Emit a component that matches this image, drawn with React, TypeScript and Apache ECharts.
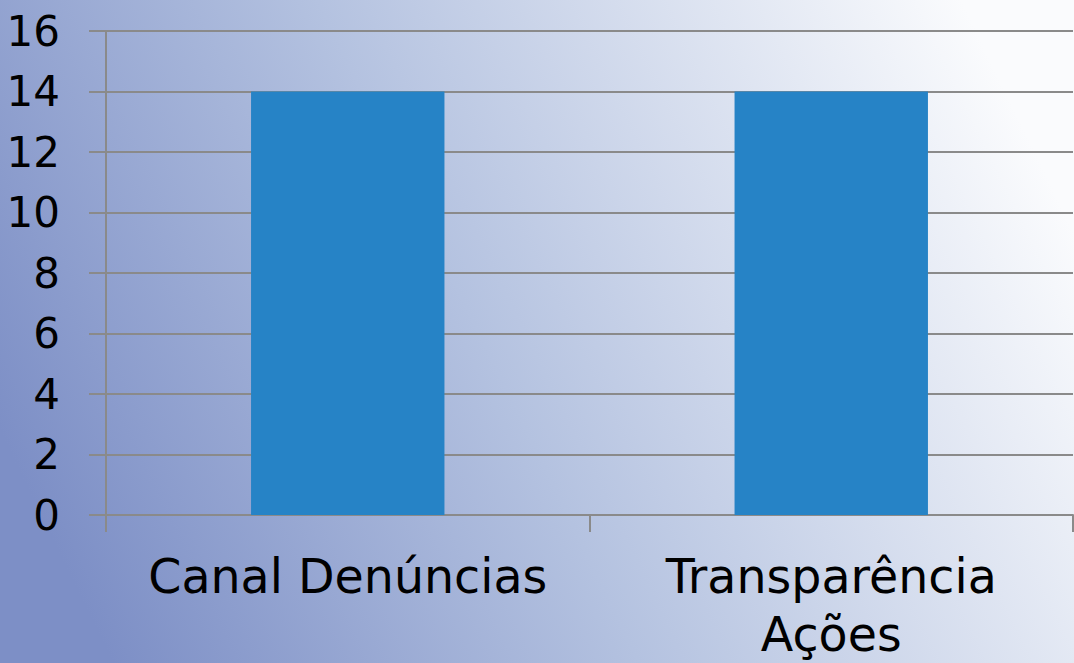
import React, { useEffect, useRef } from "react";
import * as echarts from "echarts";

const categories = ["Canal Denúncias", "Transparência\nAções"];
const values = [14, 14];
const yMin = 0;
const yMax = 16;
const yStep = 2;

export default function App() {
  const ref = useRef<HTMLDivElement>(null);
  useEffect(() => {
    if (!ref.current) return;
    const chart = echarts.init(ref.current, null, { renderer: "svg" });
    const font = "'DejaVu Sans', sans-serif";
    chart.setOption({
      animation: false,
      backgroundColor: {
        type: "linear",
        x: 0,
        y: 0.65,
        x2: 1,
        y2: 0.35,
        colorStops: [
          { offset: 0, color: "#7d8fc6" },
          { offset: 0.45, color: "#b4c2e0" },
          { offset: 1, color: "#fafbfd" },
        ],
      },
      grid: { left: 106, right: 1, top: 31, bottom: 140, containLabel: false },
      xAxis: {
        type: "category",
        data: categories,
        axisLine: { show: true, lineStyle: { color: "#8a8a8a", width: 2 } },
        axisTick: { show: true, length: 17, lineStyle: { color: "#8a8a8a", width: 2 } },
        axisLabel: {
          color: "#000",
          fontSize: 47.5,
          fontFamily: font,
          margin: 32,
          lineHeight: 58,
          interval: 0,
        },
      },
      yAxis: {
        type: "value",
        min: yMin,
        max: yMax,
        interval: yStep,
        axisLine: { show: true, lineStyle: { color: "#8a8a8a", width: 2 } },
        axisTick: { show: true, length: 17, lineStyle: { color: "#8a8a8a", width: 2 } },
        splitLine: { show: true, lineStyle: { color: "#8a8a8a", width: 2 } },
        axisLabel: { color: "#000", fontSize: 42, fontFamily: font, margin: 46 },
      },
      series: [
        {
          type: "bar",
          data: values,
          barWidth: "40%",
          itemStyle: { color: "#2683c6" },
        },
      ],
    });
    return () => chart.dispose();
  }, []);
  return (
    <div
      ref={ref}
      style={{ position: "absolute", left: 0, top: 0, width: 1074, height: 663 }}
    />
  );
}
